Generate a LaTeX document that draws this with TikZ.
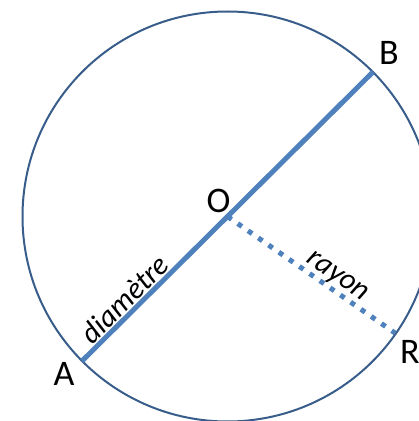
\documentclass[tikz,border=0pt]{standalone}
\usepackage{fontspec}
\setmainfont{Carlito}
\usepackage{xcolor}
\usepackage{tikz}
\usetikzlibrary{positioning,calc}

\definecolor{rimblue}{HTML}{385D8A}
\definecolor{lineblue}{HTML}{4F81BD}

\begin{document}
\begin{tikzpicture}[
    x=1pt, y=1pt,
    rim/.style={draw=rimblue, line width=2pt},
    diam_line/.style={draw=lineblue, line width=5pt},
    ray_line/.style={draw=lineblue, line width=5pt, dash pattern=on 5pt off 7.5pt},
    pt_label/.style={font=\fontsize{36}{40}\selectfont, inner sep=0pt},
    line_label/.style={font=\fontsize{30}{34}\selectfont\itshape, sloped, above, inner sep=1pt}
]
\useasboundingbox (0,0) rectangle (419,421);
\clip (0,0) rectangle (419,421);

\coordinate (O) at (227.5,204.5);
\coordinate (A) at (82,60);
\coordinate (B) at (373,349);
\coordinate (R) at (395,88);

\draw [rim] (O) circle[radius=205];

\draw [diam_line] (A) -- node[line_label, pos=0.18] {diamètre} (B);
\draw [ray_line]  (O) -- node[line_label, pos=0.61, inner sep=0pt] {rayon} (R);

\node (labO) [pt_label] at ($(O)+(-9,16)$)  {O};
\node (labA) [pt_label] at ($(A)+(-18,-13)$) {A};
\node (labB) [pt_label] at ($(B)+(16,19)$)  {B};
\node (labR) [pt_label] at ($(R)+(15,-19)$) {R};

\end{tikzpicture}
\end{document}
